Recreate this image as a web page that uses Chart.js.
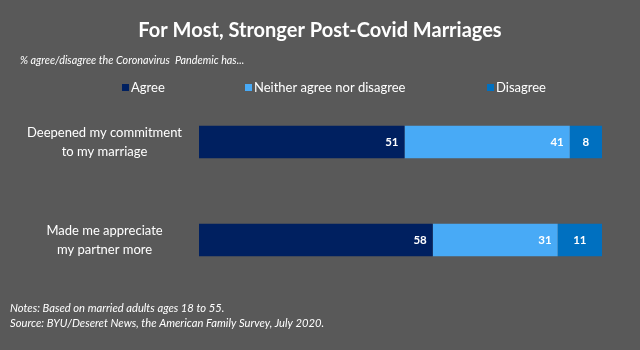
<!DOCTYPE html>
<html>
<head>
<meta charset="utf-8">
<script src="https://cdn.jsdelivr.net/npm/chart.js@4"></script>
<style>
  html, body { margin: 0; padding: 0; background: #595959; }
  #wrap { width: 640px; height: 350px; }
</style>
</head>
<body>
<div id="wrap"><canvas id="covid-marriages-chart" width="640" height="350"></canvas></div>
<script>
const categories = [
  ['Deepened my commitment', 'to my marriage'],
  ['Made me appreciate', 'my partner more']
]
const series_names = ['Agree', 'Neither agree nor disagree', 'Disagree']
const agree = [51, 58]
const neither = [41, 31]
const disagree = [8, 11]

const title_text = 'For Most, Stronger Post-Covid Marriages'
const subtitle_text = '% agree/disagree the Coronavirus  Pandemic has...'
const notes = [
  'Notes: Based on married adults ages 18 to 55.',
  'Source: BYU/Deseret News, the American Family Survey, July 2020.'
]

const colors = ['#002060', '#48aaf6', '#0070c0']
const font_family = 'Lato, "Open Sans", sans-serif'

// title, subtitle, legend, notes and the numbers inside the bars
const extras = {
  id: 'extras',
  beforeDraw(chart) {
    const c = chart.ctx
    c.save()
    c.fillStyle = '#595959'
    c.fillRect(0, 0, chart.width, chart.height)
    c.restore()
  },
  afterDatasetsDraw(chart) {
    const c = chart.ctx
    c.save()
    c.fillStyle = '#ffffff'
    c.textBaseline = 'middle'
    c.font = 'bold 11.5px ' + font_family
    chart.data.datasets.forEach(function(ds, i) {
      const meta = chart.getDatasetMeta(i)
      meta.data.forEach(function(bar, j) {
        const label = String(ds.data[j])
        if (i == chart.data.datasets.length - 1) {
          c.textAlign = 'center'
          c.fillText(label, (bar.x + bar.base) / 2, bar.y)
        } else {
          c.textAlign = 'right'
          c.fillText(label, bar.x - 6, bar.y)
        }
      })
    })
    c.restore()
  },
  afterDraw(chart) {
    const c = chart.ctx
    c.save()
    c.fillStyle = '#ffffff'
    c.textBaseline = 'middle'

    c.textAlign = 'center'
    c.font = 'bold 20px ' + font_family
    c.fillText(title_text, 320, 31)

    c.textAlign = 'left'
    c.font = 'italic 10.8px ' + font_family
    c.fillText(subtitle_text, 20, 61)

    const legend_x = [122, 245, 487]
    c.font = '13px ' + font_family
    series_names.forEach(function(name, i) {
      c.fillStyle = colors[i]
      c.fillRect(legend_x[i], 84, 7, 7)
      c.fillStyle = '#ffffff'
      c.fillText(name, legend_x[i] + 9, 87.5)
    })

    c.font = 'italic 11.2px ' + font_family
    c.fillText(notes[0], 10, 308)
    c.fillText(notes[1], 10, 323)
    c.restore()
  }
}

const ctx = document.getElementById('covid-marriages-chart').getContext('2d')

new Chart(ctx, {
  type: 'bar',
  data: {
    labels: categories,
    datasets: [
      { label: series_names[0], data: agree, backgroundColor: colors[0] },
      { label: series_names[1], data: neither, backgroundColor: colors[1] },
      { label: series_names[2], data: disagree, backgroundColor: colors[2] }
    ].map(function(ds) {
      ds.categoryPercentage = 1
      ds.barPercentage = 0.33
      ds.borderWidth = 0
      return ds
    })
  },
  options: {
    indexAxis: 'y',
    responsive: false,
    animation: false,
    layout: {
      padding: { top: 93, bottom: 61, left: 10, right: 38 }
    },
    scales: {
      x: {
        stacked: true,
        min: 0,
        max: 100,
        display: false
      },
      y: {
        stacked: true,
        grid: { display: false, drawTicks: false },
        border: { display: false },
        afterFit(scale) {
          scale.width = 189
        },
        ticks: {
          color: '#ffffff',
          crossAlign: 'center',
          padding: 17,
          font: { family: font_family, size: 13, lineHeight: 1.45 }
        }
      }
    },
    plugins: {
      legend: { display: false },
      tooltip: { enabled: false }
    }
  },
  plugins: [extras]
})
</script>
</body>
</html>
